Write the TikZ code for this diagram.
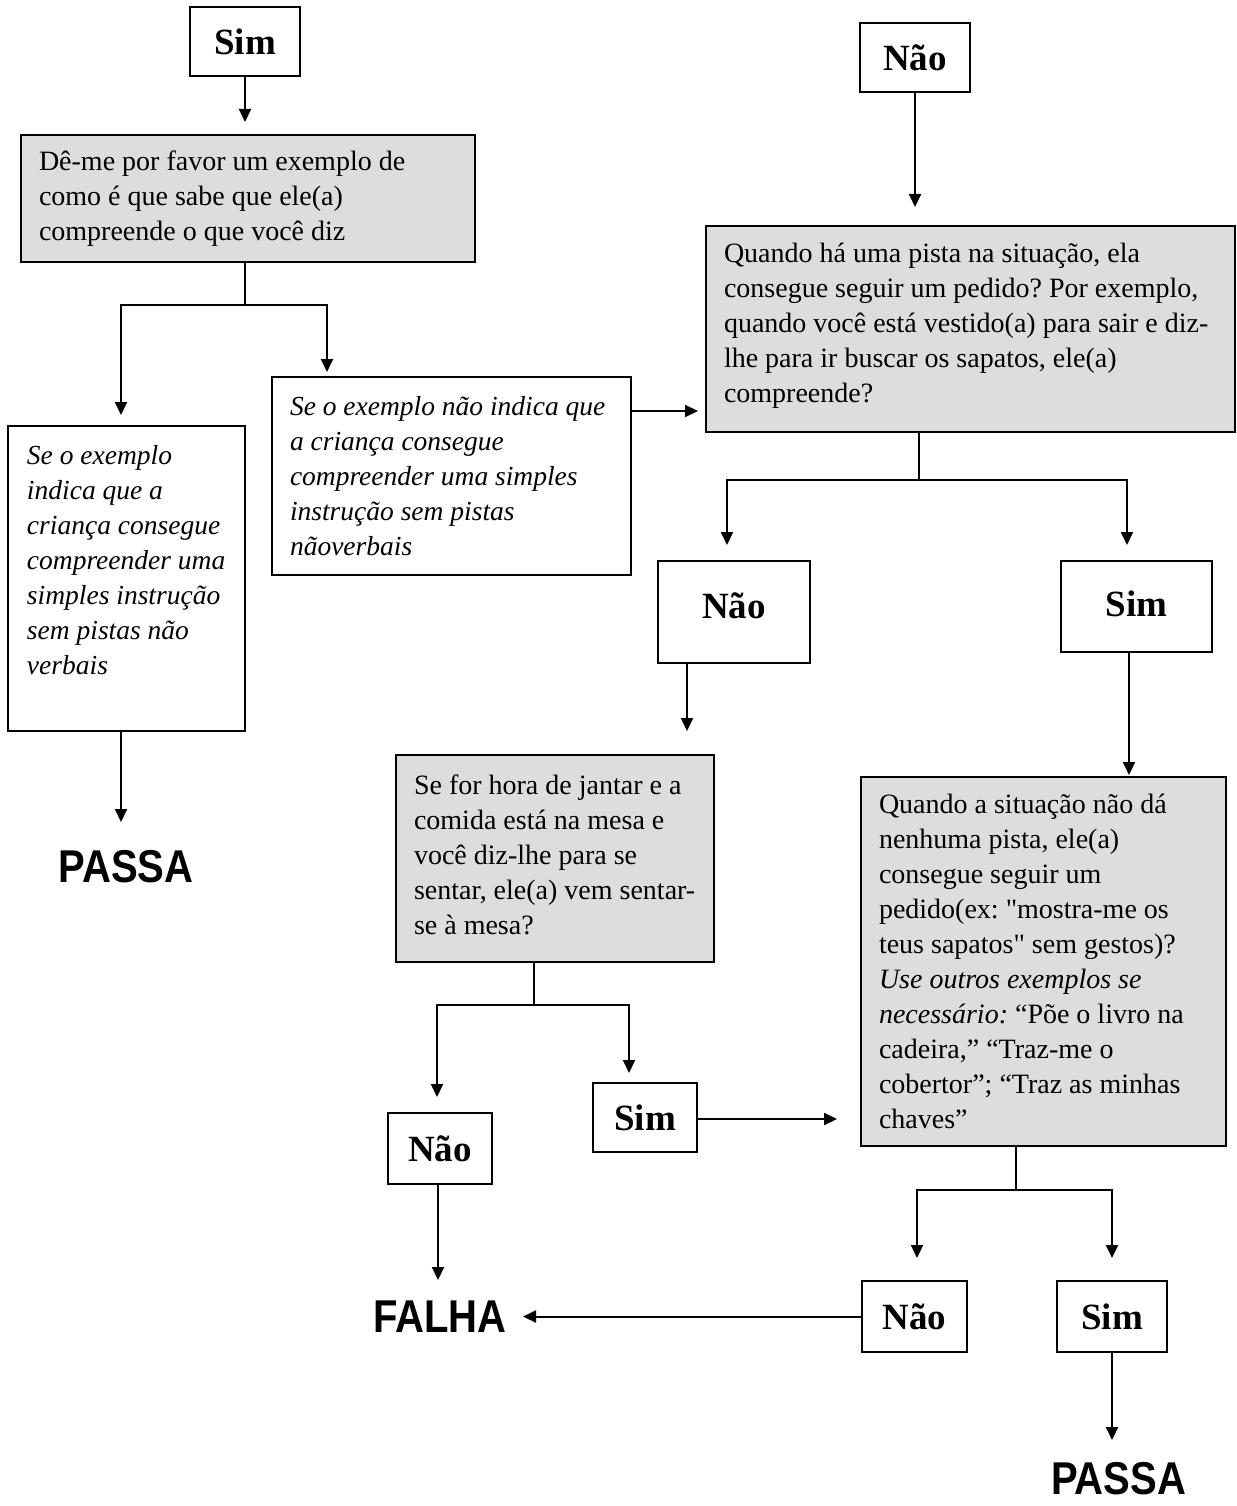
\documentclass[tikz,border=0pt]{standalone}
\usepackage{fontspec}
\setmainfont{Liberation Serif}[Ligatures=TeXOff]
\newfontfamily\verdictfont{Liberation Sans}[FakeStretch=0.87]
\usetikzlibrary{arrows.meta}
\definecolor{boxgray}{RGB}{221,221,221}
\frenchspacing

\begin{document}
\begin{tikzpicture}[x=1pt,y=-1pt,
  every node/.style={inner sep=0pt, outer sep=0pt},
  frame/.style={draw, line width=2pt, rectangle},
  shaded/.style={frame, fill=boxgray},
  qtext/.style={anchor=west, align=left, font=\fontsize{28}{35}\selectfont},
  ntext/.style={anchor=west, align=left, font=\fontsize{27.5}{35}\selectfont\itshape},
  answer/.style={frame, font=\fontsize{37}{40}\selectfont\bfseries},
  verdict/.style={font=\verdictfont\fontsize{46}{50}\selectfont\bfseries},
  link/.style={line width=2pt},
  arr/.style={line width=2pt, -{Triangle[length=13pt,width=12pt]}}
]
\useasboundingbox (0,0) rectangle (1236,1506);

% ---- boxes ----
\node[answer, minimum width=110pt, minimum height=69pt] (simA) at (245,41.5) {Sim};
\node[shaded, minimum width=454pt, minimum height=127pt] (q1) at (248,198.5) {};
\node[qtext] (q1t) at ([xshift=18pt]q1.west) {Dê-me por favor um exemplo de\\como é que sabe que ele(a)\\compreende o que você diz};

\node[frame, minimum width=237pt, minimum height=305pt] (left) at (126.5,578.5) {};
\node[ntext] (leftt) at ([xshift=19pt,yshift=18pt]left.west) {Se o exemplo\\indica que a\\criança consegue\\compreender uma\\simples instrução\\sem pistas não\\verbais};

\node[frame, minimum width=359pt, minimum height=198pt] (mid) at (451.5,476) {};
\node[ntext] (midt) at ([xshift=18pt]mid.west) {Se o exemplo não indica que\\a criança consegue\\compreender uma simples\\instrução sem pistas\\nãoverbais};

\node[answer, minimum width=110pt, minimum height=69pt] (naoA) at (915,57.5) {\raisebox{-4pt}{Não}};
\node[shaded, minimum width=529pt, minimum height=206pt] (q2) at (970.5,329) {};
\node[qtext] (q2t) at ([xshift=18pt,yshift=3pt]q2.west) {Quando há uma pista na situação, ela\\consegue seguir um pedido? Por exemplo,\\quando você está vestido(a) para sair e diz-\\lhe para ir buscar os sapatos, ele(a)\\compreende?};

\node[answer, minimum width=152pt, minimum height=102pt] (naoB) at (734,612) {\raisebox{12pt}{Não}};
\node[answer, minimum width=151pt, minimum height=91pt] (simB) at (1136.5,606.5) {\raisebox{6pt}{Sim}};

\node[shaded, minimum width=318pt, minimum height=207pt] (q3) at (555,858.5) {};
\node[qtext] (q3t) at ([xshift=18pt,yshift=4pt]q3.west) {Se for hora de jantar e a\\comida está na mesa e\\você diz-lhe para se\\sentar, ele(a) vem sentar-\\se à mesa?};

\node[shaded, minimum width=365pt, minimum height=369pt] (q4) at (1043.5,961.5) {};
\node[qtext] (q4t) at ([xshift=18pt]q4.west) {Quando a situação não dá\\nenhuma pista, ele(a)\\consegue seguir um\\pedido(ex: "mostra-me os\\teus sapatos" sem gestos)?\\\textit{Use outros exemplos se}\\\textit{necessário:} “Põe o livro na\\cadeira,” “Traz-me o\\cobertor”; “Traz as minhas\\chaves”};

\node[answer, minimum width=104pt, minimum height=71pt] (naoC) at (440,1148.5) {Não};
\node[answer, minimum width=104pt, minimum height=69pt] (simC) at (645,1117.5) {Sim};
\node[answer, minimum width=105pt, minimum height=71pt] (naoD) at (914.5,1316.5) {Não};
\node[answer, minimum width=110pt, minimum height=71pt] (simD) at (1112,1316.5) {Sim};

\node[verdict] (passaL) at (126,866.5) {PASSA};
\node[verdict] (falha) at (440,1316.5) {FALHA};
\node[verdict] (passaR) at (1118.5,1479) {PASSA};

% ---- junctions and arrow ends ----
\coordinate (j1) at (245,305);
\coordinate (e1l) at (121,415);
\coordinate (e1r) at (327,372);
\coordinate (e1p) at (121,822);
\coordinate (em) at (698,411);
\coordinate (eA) at (915,207);
\coordinate (j2) at (919,480);
\coordinate (e2l) at (727,545);
\coordinate (e2r) at (1127,545);
\coordinate (eB) at (687,731);
\coordinate (eS) at (1129,775);
\coordinate (j3) at (534,1005);
\coordinate (e3l) at (437,1097);
\coordinate (e3r) at (629,1073);
\coordinate (eC) at (837,1119);
\coordinate (eF) at (438,1280);
\coordinate (j4) at (1016,1190);
\coordinate (e4l) at (917,1258);
\coordinate (e4r) at (1112,1258);
\coordinate (eL) at (523,1316.5);
\coordinate (eP) at (1112,1440);

% ---- connectors ----
\draw[arr] (simA.south) -- (simA.south |- 0,122);
\draw[link] (q1.south -| j1) -- (j1);
\draw[arr] (j1) -| (e1l);
\draw[arr] (j1) -| (e1r);
\draw[arr] (left.south -| e1p) -- (e1p);
\draw[arr] (mid.east |- em) -- (em);

\draw[arr] (naoA.south) -- (eA);
\draw[link] (q2.south -| j2) -- (j2);
\draw[arr] (j2) -| (e2l);
\draw[arr] (j2) -| (e2r);
\draw[arr] (naoB.south -| eB) -- (eB);
\draw[arr] (simB.south -| eS) -- (eS);

\draw[link] (q3.south -| j3) -- (j3);
\draw[arr] (j3) -| (e3l);
\draw[arr] (j3) -| (e3r);
\draw[arr] (simC.east |- eC) -- (eC);
\draw[arr] (naoC.south -| eF) -- (eF);

\draw[link] (q4.south -| j4) -- (j4);
\draw[arr] (j4) -| (e4l);
\draw[arr] (j4) -| (e4r);
\draw[arr] (naoD.west) -- (eL);
\draw[arr] (simD.south) -- (eP);
\end{tikzpicture}
\end{document}
